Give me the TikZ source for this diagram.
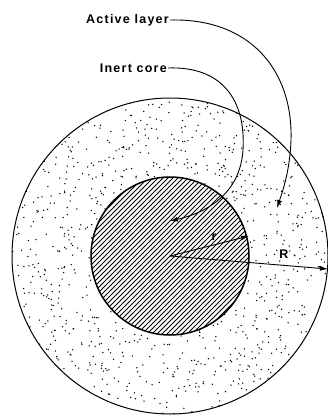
\documentclass[tikz,border=0pt]{standalone}
\usepackage{fontspec}
\newfontfamily\labfont[LetterSpace=10]{Liberation Sans}
\usetikzlibrary{arrows.meta,calc}
\tikzset{
  lab/.style={font=\labfont\bfseries\fontsize{12.5}{14}\selectfont, inner sep=1pt},
  conn/.style={line width=0.9pt, -{Latex[length=8pt,width=5pt]}},
  rim/.style={draw, circle, line width=1pt},
}
\begin{document}
\begin{tikzpicture}[x=1pt,y=-1pt]
\useasboundingbox (0,0) rectangle (328,415);
\coordinate (c) at (170,256);
\begin{scope}
\clip (0,0) rectangle (328,415);
% stipple in annulus
\pgfmathsetseed{7}
\foreach \i in {1,...,800}{
  \pgfmathsetmacro{\rr}{80*sqrt(1+2.9*rnd)}
  \pgfmathsetmacro{\aa}{rnd*360}
  \fill ($(c)+(\aa:\rr)$) circle (0.75pt);
}
\end{scope}
% hatching of core
\begin{scope}
\clip (c) circle (79);
\foreach \k in {-180,-175,...,180}{
  \draw[line width=0.75pt] ($(c)+(\k,0)+(-120,120)$) -- ($(c)+(\k,0)+(120,-120)$);
}
\end{scope}
\node[rim, minimum size=316pt, inner sep=0pt] (outer) at (c) {};
\node[rim, line width=1.5pt, minimum size=158pt, inner sep=0pt] (core) at (c) {};
% labels
\node[lab, anchor=east] (active) at (170,20) {Active layer};
\node[lab, anchor=east] (inert) at (168,68) {Inert core};
\coordinate (aend) at (277,208);
\coordinate (iend) at (170,221);
\draw[conn] (active.east) .. controls (250,18) and (293,70) .. (291,140) .. controls (290,170) and (283,190) .. (aend);
\draw[conn] (inert.east) .. controls (222,66) and (246,100) .. (243,150) .. controls (240,195) and (205,213) .. (iend);
% radii
\coordinate (rend) at (249,236);
\coordinate (Rend) at (328,269);
\draw[conn] (c) -- (rend);
\draw[conn] (c) -- (Rend);
\node[lab] (rlab) at (214,237) {r};
\node[lab] (Rlab) at (284,254) {R};
\end{tikzpicture}
\end{document}
